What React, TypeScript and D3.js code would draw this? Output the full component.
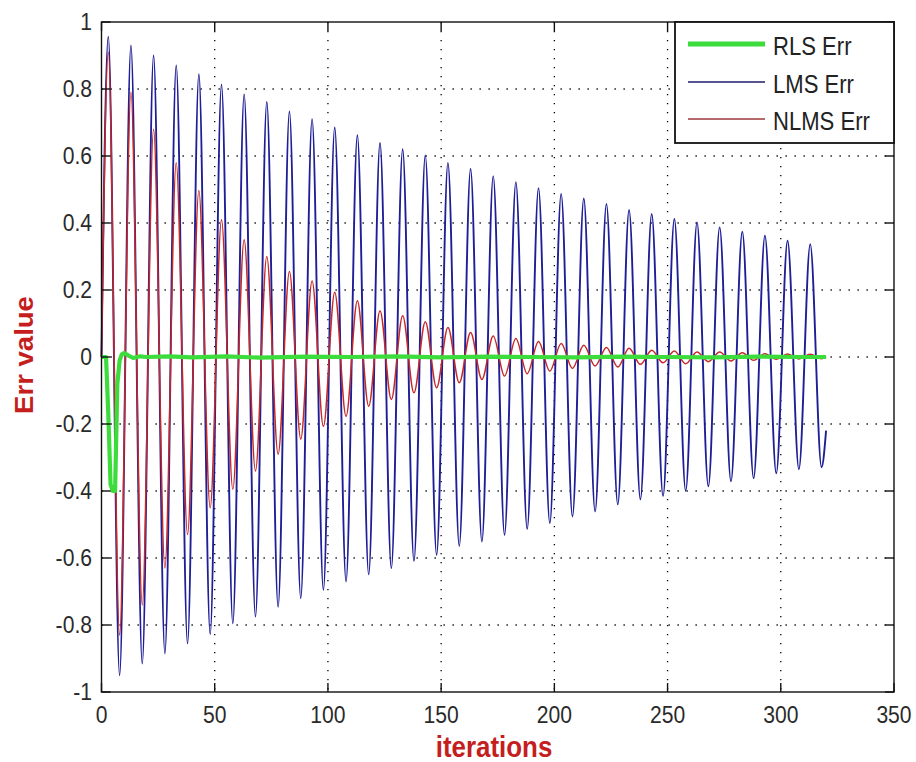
import React from 'react';
import * as d3 from 'd3';

const W = 916;
const H = 762;

const xTicks = [0, 50, 100, 150, 200, 250, 300, 350];
const xTickLabels = ['0', '50', '100', '150', '200', '250', '300', '350'];
const yTicks = [-1, -0.8, -0.6, -0.4, -0.2, 0, 0.2, 0.4, 0.6, 0.8, 1];
const yTickLabels = ['-1', '-0.8', '-0.6', '-0.4', '-0.2', '0', '0.2', '0.4', '0.6', '0.8', '1'];

const seriesNames = ['RLS Err', 'LMS Err', 'NLMS Err'];

// iterations of the positive and negative extrema of LMS / NLMS oscillations
const peakIters = [3, 13, 23, 33, 43, 53, 63, 73, 83, 93, 103, 113, 123, 133, 143, 153, 163, 173, 183, 193, 203, 213, 223, 233, 243, 253, 263, 273, 283, 293, 303, 313];
const troughIters = [8, 18, 28, 38, 48, 58, 68, 78, 88, 98, 108, 118, 128, 138, 148, 158, 168, 178, 188, 198, 208, 218, 228, 238, 248, 258, 268, 278, 288, 298, 308, 318];

const lmsPeaks = [0.956, 0.93, 0.9, 0.87, 0.844, 0.813, 0.784, 0.761, 0.733, 0.71, 0.685, 0.662, 0.639, 0.62, 0.602, 0.579, 0.562, 0.54, 0.522, 0.504, 0.487, 0.473, 0.457, 0.439, 0.427, 0.412, 0.402, 0.387, 0.374, 0.362, 0.347, 0.337];
const lmsTroughs = [-0.95, -0.915, -0.885, -0.855, -0.827, -0.795, -0.775, -0.746, -0.72, -0.695, -0.67, -0.649, -0.631, -0.609, -0.591, -0.564, -0.551, -0.531, -0.513, -0.496, -0.476, -0.461, -0.44, -0.425, -0.415, -0.4, -0.386, -0.371, -0.362, -0.347, -0.335, -0.329];

const nlmsPeaks = [0.91, 0.79, 0.68, 0.58, 0.497, 0.41, 0.35, 0.3, 0.255, 0.227, 0.193, 0.168, 0.138, 0.123, 0.105, 0.088, 0.073, 0.063, 0.055, 0.046, 0.04, 0.035, 0.028, 0.026, 0.02, 0.018, 0.015, 0.015, 0.013, 0.01, 0.009, 0.008];
const nlmsTroughs = [-0.83, -0.74, -0.63, -0.53, -0.45, -0.395, -0.34, -0.29, -0.245, -0.207, -0.177, -0.147, -0.127, -0.107, -0.092, -0.077, -0.067, -0.057, -0.05, -0.042, -0.034, -0.027, -0.03, -0.022, -0.017, -0.02, -0.014, -0.012, -0.01, -0.007, -0.006, -0.005];

const firstIter = 0;
const lastIter = 320;
const lmsFirst = 0;
const lmsLast = -0.22;
const nlmsFirst = 0;
const nlmsLast = 0;

const rlsIters = [0, 1, 2, 3, 4, 5, 6, 7, 8, 9, 10, 12, 14, 17, 20, 30, 40, 55, 70, 90, 110, 130, 150, 170, 190, 210, 230, 250, 270, 290, 310, 320];
const rlsValues = [0, 0, 0, -0.17, -0.38, -0.4, -0.4, -0.08, -0.01, 0.008, 0.012, 0.004, -0.003, 0.002, 0, 0.002, -0.001, 0.002, -0.002, 0.001, 0, 0.002, -0.001, 0.001, 0, -0.001, 0.001, 0, -0.001, 0.001, 0, 0];

const M = { left: 101.5, right: 894, top: 22, bottom: 692 };

function buildOsc(first: number, peaks: number[], troughs: number[], last: number): [number, number][] {
  const pts: [number, number][] = [[firstIter, first]];
  peakIters.forEach((it, i) => pts.push([it, peaks[i]]));
  troughIters.forEach((it, i) => pts.push([it, troughs[i]]));
  pts.push([lastIter, last]);
  pts.sort((a, b) => a[0] - b[0]);
  return pts;
}

export default function App() {
  const x = d3.scaleLinear().domain([0, 350]).range([M.left, M.right]);
  const y = d3.scaleLinear().domain([-1, 1]).range([M.bottom, M.top]);

  const oscLine = d3
    .line<[number, number]>()
    .x((d) => x(d[0]))
    .y((d) => y(d[1]))
    .curve(d3.curveMonotoneX);
  const linLine = d3
    .line<[number, number]>()
    .x((d) => x(d[0]))
    .y((d) => y(d[1]));

  const lms = buildOsc(lmsFirst, lmsPeaks, lmsTroughs, lmsLast);
  const nlms = buildOsc(nlmsFirst, nlmsPeaks, nlmsTroughs, nlmsLast);
  const rls: [number, number][] = rlsIters.map((it, i) => [it, rlsValues[i]]);

  const font = 'Liberation Sans, Arial, sans-serif';
  const colors = { rls: '#3ddc3d', lms: '#1e1e96', nlms: '#c62828', label: '#c41e1e' };
  const tickLen = 9;
  const stretch = 'scale(0.96, 1.12)';

  const leg = { x0: 675, x1: M.right, y0: M.top, y1: 143 };
  const legRows = [44, 82, 119];
  const legColors = [colors.rls, '#1c1c6c', '#9c3a3a'];
  const legWidths = [5, 1.3, 1.3];

  return (
    <svg
      width={W}
      height={H}
      style={{ position: 'absolute', left: 0, top: 0, background: '#fff', display: 'block' }}
      fontFamily={font}
    >
      <rect x={0} y={0} width={W} height={H} fill="#fff" />
      {/* grid */}
      <g stroke="#000" strokeWidth={1.3} strokeDasharray="1.3 7.7">
        {xTicks.slice(1, -1).map((t) => (
          <line key={'gx' + t} x1={x(t)} x2={x(t)} y1={M.top} y2={M.bottom} />
        ))}
        {yTicks.slice(1, -1).map((t) => (
          <line key={'gy' + t} x1={M.left} x2={M.right} y1={y(t)} y2={y(t)} />
        ))}
      </g>
      {/* series */}
      <path d={oscLine(lms) || ''} fill="none" stroke={colors.lms} strokeWidth={1.9} />
      <path d={oscLine(nlms) || ''} fill="none" stroke={colors.nlms} strokeWidth={1.5} />
      <path d={linLine(rls) || ''} fill="none" stroke={colors.rls} strokeWidth={4.2} strokeLinejoin="round" />
      {/* axes box */}
      <rect x={M.left} y={M.top} width={M.right - M.left} height={M.bottom - M.top} fill="none" stroke="#111" strokeWidth={1.4} />
      {/* ticks */}
      <g stroke="#111" strokeWidth={1.4}>
        {xTicks.map((t) => (
          <g key={'tx' + t}>
            <line x1={x(t)} x2={x(t)} y1={M.bottom} y2={M.bottom - tickLen} />
            <line x1={x(t)} x2={x(t)} y1={M.top} y2={M.top + tickLen} />
          </g>
        ))}
        {yTicks.map((t) => (
          <g key={'ty' + t}>
            <line x1={M.left} x2={M.left + tickLen} y1={y(t)} y2={y(t)} />
            <line x1={M.right} x2={M.right - tickLen} y1={y(t)} y2={y(t)} />
          </g>
        ))}
      </g>
      {/* tick labels */}
      <g fontSize={22} fill="#2a2a2a">
        {xTicks.map((t, i) => (
          <text key={'lx' + t} transform={`translate(${x(t)}, 723) ${stretch}`} textAnchor="middle">
            {xTickLabels[i]}
          </text>
        ))}
        {yTicks.map((t, i) => (
          <text key={'ly' + t} transform={`translate(92, ${y(t) + 8}) ${stretch}`} textAnchor="end">
            {yTickLabels[i]}
          </text>
        ))}
      </g>
      {/* axis titles */}
      <text transform={`translate(494, 757) ${stretch}`} textAnchor="middle" fontSize={27} fontWeight="bold" fill={colors.label}>
        iterations
      </text>
      <text
        transform={`translate(33, 355) rotate(-90) scale(1.02, 0.98)`}
        textAnchor="middle"
        fontSize={27}
        fontWeight="bold"
        fill={colors.label}
      >
        Err value
      </text>
      {/* legend */}
      <rect x={leg.x0} y={leg.y0} width={leg.x1 - leg.x0} height={leg.y1 - leg.y0} fill="#fff" stroke="#111" strokeWidth={1.8} />
      {seriesNames.map((name, i) => (
        <g key={name}>
          <line x1={688} x2={765} y1={legRows[i]} y2={legRows[i]} stroke={legColors[i]} strokeWidth={legWidths[i]} />
          <text transform={`translate(773, ${legRows[i] + 10.5}) ${stretch}`} fontSize={23} fill="#222">
            {name}
          </text>
        </g>
      ))}
    </svg>
  );
}
